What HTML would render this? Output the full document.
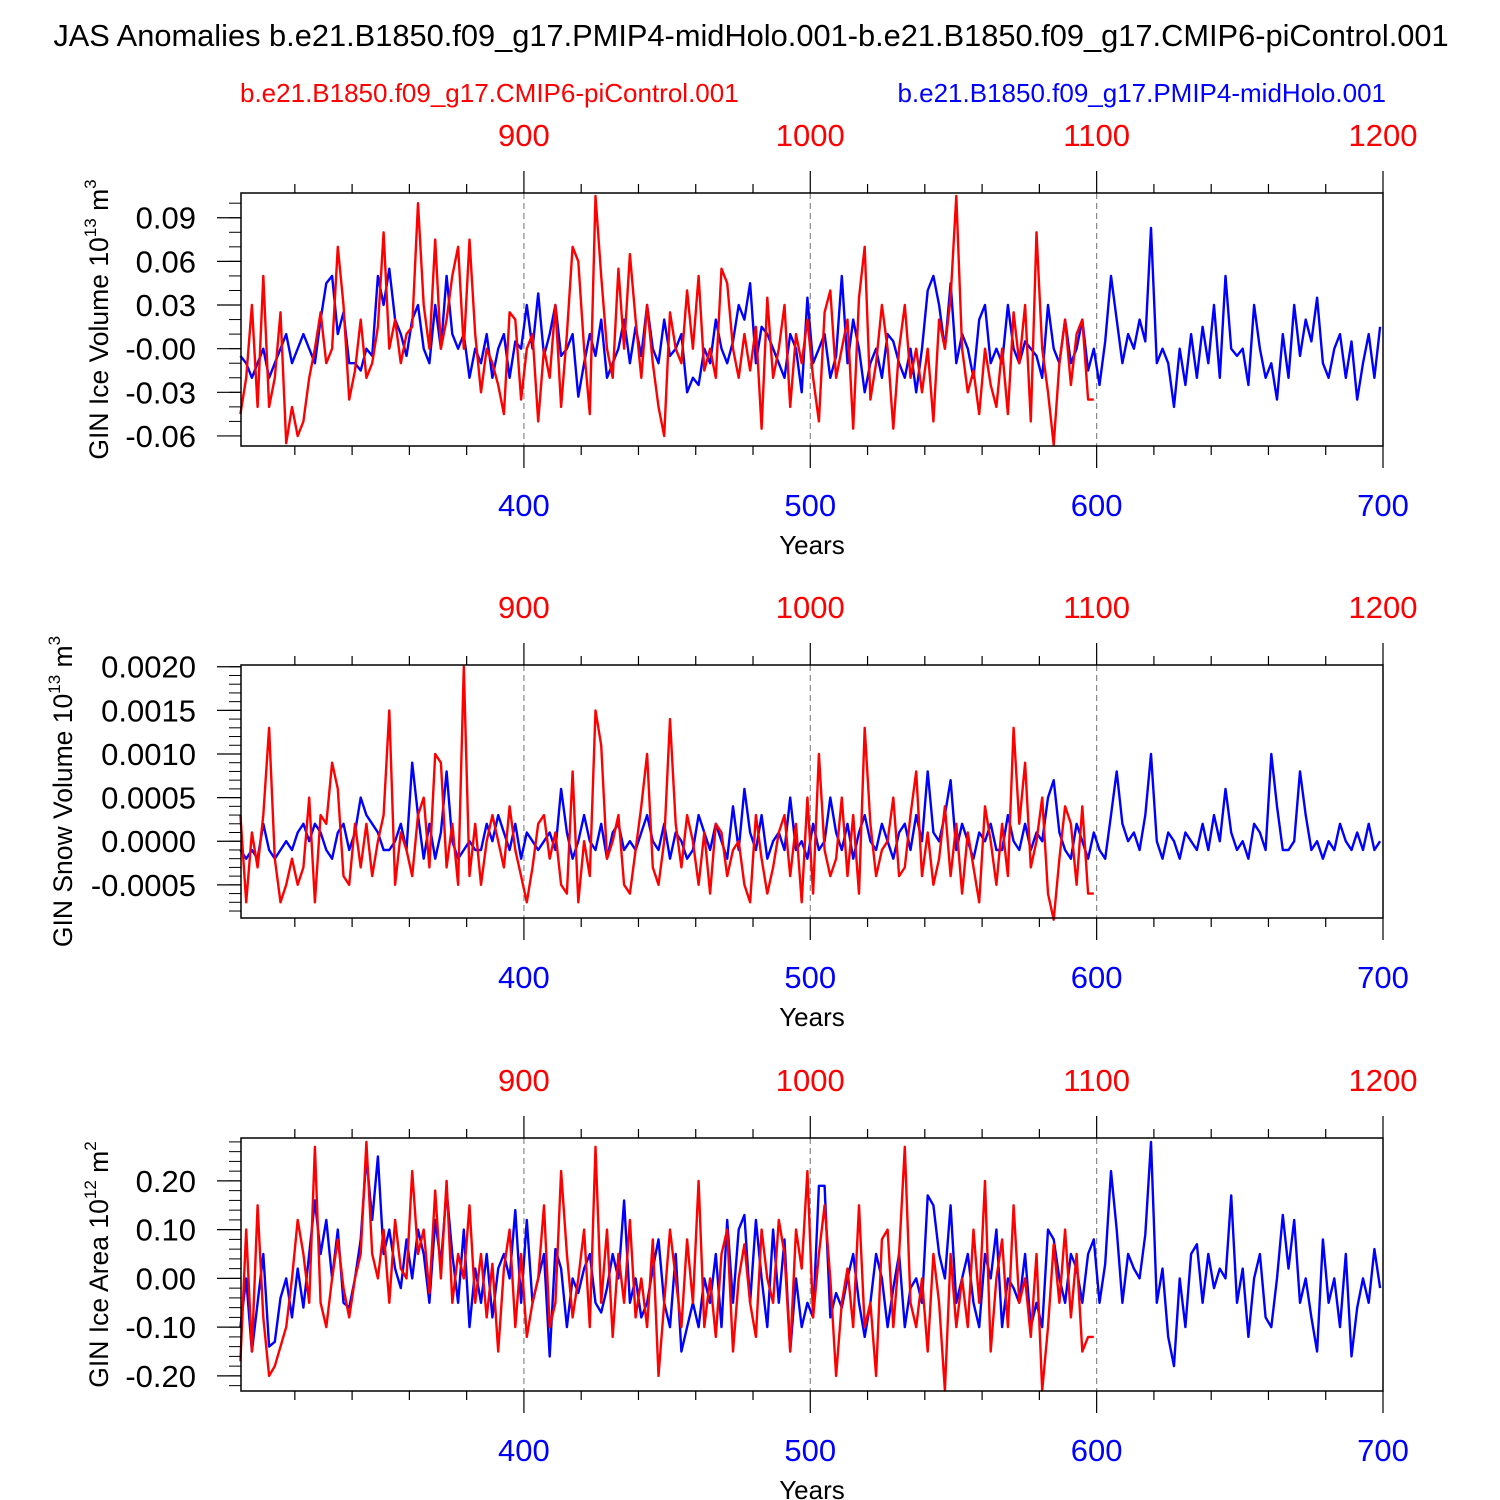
<!DOCTYPE html>
<html><head><meta charset="utf-8">
<style>
html,body{margin:0;padding:0;background:#fff;}
svg{display:block;font-family:"Liberation Sans",Arial,sans-serif;}
</style></head>
<body>
<svg id="chart" width="1500" height="1500" viewBox="0 0 1500 1500" xmlns="http://www.w3.org/2000/svg">
<rect width="1500" height="1500" fill="#fff"/>
<text x="751" y="46" font-size="30.8" text-anchor="middle">JAS Anomalies b.e21.B1850.f09_g17.PMIP4-midHolo.001-b.e21.B1850.f09_g17.CMIP6-piControl.001</text>
<text x="240" y="102" font-size="26" fill="#ff0000">b.e21.B1850.f09_g17.CMIP6-piControl.001</text>
<text x="1386" y="102" font-size="26" fill="#0000ff" text-anchor="end">b.e21.B1850.f09_g17.PMIP4-midHolo.001</text>
</svg>
<script>
// time axes
const blueStart = 301, redStart = 801, yearStep = 2, redOffset = 500;
const bottomTicks = [400, 500, 600, 700];
const topTicks = [900, 1000, 1100, 1200];

// Panel 1: ice volume (1e13 m3)
const iceVolBlue = [-0.005,-0.01,-0.02,-0.01,0.0,-0.02,-0.01,0.0,0.01,-0.01,0.0,0.01,0.0,-0.01,0.02,0.045,0.05,0.01,0.025,-0.01,
-0.01,-0.015,0.0,-0.005,0.05,0.03,0.055,0.02,0.01,-0.005,0.02,0.03,0.0,-0.01,0.03,0.0,0.05,0.01,0.0,0.01,
-0.02,0.0,-0.01,0.01,-0.02,0.0,0.01,-0.02,0.005,0.0,0.03,0.0,0.038,-0.005,0.01,0.03,-0.005,0.0,0.01,-0.033,
-0.01,0.01,-0.005,0.02,-0.02,-0.01,0.0,0.02,-0.01,0.015,-0.005,0.03,0.0,-0.01,0.02,-0.005,0.0,0.01,-0.03,-0.02,
-0.025,0.0,-0.01,0.02,0.0,-0.01,0.005,0.03,0.02,0.045,-0.01,0.015,0.01,0.0,-0.01,-0.02,0.01,0.0,-0.03,0.035,
-0.01,0.0,0.01,-0.02,-0.005,0.05,-0.01,0.02,0.0,-0.03,-0.01,0.0,-0.02,0.01,0.005,-0.01,-0.02,0.0,-0.03,0.0,
0.04,0.05,0.03,0.0,0.045,-0.01,0.01,0.0,-0.02,0.02,0.03,-0.01,0.0,-0.01,0.03,0.0,-0.01,0.005,0.0,-0.005,
-0.02,0.03,0.0,-0.01,0.02,-0.01,0.0,0.02,-0.015,0.0,-0.025,0.005,0.05,0.02,-0.01,0.01,0.0,0.02,0.005,0.083,
-0.01,0.0,-0.01,-0.04,0.0,-0.025,0.01,-0.02,0.015,-0.01,0.03,-0.02,0.05,0.0,-0.005,0.0,-0.025,0.03,0.0,-0.02,
-0.01,-0.035,0.01,-0.02,0.03,-0.005,0.02,0.005,0.035,-0.01,-0.02,0.0,0.01,-0.02,0.005,-0.035,-0.01,0.01,-0.02,0.015];
const iceVolRed = [-0.045,-0.02,0.03,-0.04,0.05,-0.04,-0.02,0.025,-0.065,-0.04,-0.06,-0.05,-0.02,0.0,0.025,-0.01,0.0,0.07,0.03,-0.035,
-0.015,0.02,-0.02,-0.01,0.015,0.08,0.0,0.02,-0.01,0.01,0.015,0.1,0.03,0.0,0.075,0.0,0.02,0.05,0.07,0.0,
0.075,0.01,-0.03,0.0,-0.01,-0.025,-0.045,0.025,0.02,-0.035,0.0,0.01,-0.05,0.0,-0.02,0.03,-0.04,0.01,0.07,0.06,
0.0,-0.045,0.105,0.05,0.0,-0.02,0.055,0.0,0.065,0.02,-0.02,0.03,-0.01,-0.04,-0.06,0.025,0.0,-0.01,0.04,0.0,
0.05,-0.015,0.0,-0.02,0.055,0.045,0.0,-0.02,0.01,-0.015,0.015,-0.055,0.035,-0.02,0.0,0.03,-0.04,0.01,-0.01,0.02,
-0.02,-0.05,0.025,0.04,-0.02,0.0,0.02,-0.055,0.035,0.07,-0.035,-0.01,0.03,0.0,-0.055,0.0,0.03,-0.02,0.0,-0.03,
0.0,-0.05,0.02,0.0,0.035,0.105,0.0,-0.03,-0.015,-0.045,0.0,-0.025,-0.04,0.0,-0.045,0.025,-0.01,0.03,-0.05,0.08,
0.0,-0.03,-0.066,-0.01,0.02,-0.025,0.01,0.02,-0.035,-0.035];

// Panel 2: snow volume, in units of 1e-4 (x 1e13 m3)
const snowVolBlueE4 = [-1,-2,-1,-2,2,-1,-2,-1,0,-1,1,2,0,2,1,-1,-2,1,2,-1,
1,5,3,2,1,-1,-1,0,2,-1,9,3,-2,2,-2,1,8,0,-2,-1,
0,-1,-1,2,0,3,1,-1,2,-2,1,0,-1,0,1,-1,6,1,-2,0,
3,0,-1,2,-2,1,2,-1,0,-1,1,3,0,-1,2,-2,1,0,-2,-1,
3,1,-1,2,0,-2,4,-1,6,1,-1,3,-2,0,1,-1,5,-1,0,-2,
2,-1,0,5,1,-1,2,-2,1,3,0,-1,2,0,-2,1,2,-1,3,0,
8,1,0,3,7,-1,2,0,-2,1,0,2,-1,-1,3,0,-1,2,-1,1,
0,5,7,1,-1,-2,2,0,-2,1,-1,-2,3,8,2,0,1,-1,3,10,
0,-2,1,0,-2,1,0,-1,2,-1,3,0,6,1,-1,0,-2,2,1,-1,
10,4,-1,-1,0,8,3,-1,0,-2,0,-1,2,0,-1,1,-1,2,-1,0];
const snowVolRedE4 = [3,-7,1,-3,3,13,-2,-7,-5,-2,-5,-3,5,-7,3,2,9,6,-4,-5,
2,-3,2,-4,0,3,15,-5,1,-1,-4,3,5,-3,10,9,-3,2,-5,20,
-4,2,-5,0,3,0,-3,4,-1,-4,-7,-3,2,3,-2,1,-5,-6,8,-7,
0,-4,15,11,-2,0,3,-5,-6,-1,4,10,-3,-5,0,14,2,-3,3,0,
-5,1,-6,2,1,-4,-1,0,-5,-7,3,-2,-6,-3,1,3,-4,2,-7,5,
-6,10,-1,-4,-2,5,-4,3,-6,13,2,-4,-1,0,5,-4,-3,3,8,-4,
1,-5,-2,4,-4,2,-6,1,-3,-7,4,0,-5,2,-4,13,2,9,-3,0,
5,-6,-9,-2,4,2,-5,4,-6,-6];

// Panel 3: ice area (1e12 m2)
const iceAreaBlue = [-0.1,0.0,-0.15,-0.05,0.05,-0.14,-0.13,-0.04,0.0,-0.08,0.02,-0.06,0.05,0.16,0.05,0.12,0.0,0.1,-0.05,-0.06,
0.0,0.08,0.25,0.12,0.25,0.05,0.1,0.02,-0.02,0.08,0.0,0.1,0.05,-0.05,0.12,0.03,0.18,0.05,-0.05,0.1,
-0.1,0.02,-0.05,0.05,-0.08,0.02,0.05,0.0,0.14,-0.05,0.12,-0.05,0.0,0.05,-0.16,0.06,0.02,-0.1,0.0,-0.03,
0.02,0.05,-0.05,-0.07,-0.02,0.05,0.0,0.16,-0.05,0.0,-0.08,-0.05,0.02,0.08,-0.05,-0.1,0.05,-0.15,-0.1,-0.05,
-0.1,0.0,-0.05,0.05,-0.1,0.12,-0.05,0.1,0.13,-0.05,0.12,0.0,-0.1,0.1,-0.05,0.08,-0.15,0.0,-0.1,-0.05,
-0.08,0.19,0.19,-0.08,-0.03,-0.06,0.0,0.05,-0.05,-0.12,-0.05,0.05,0.0,-0.1,-0.02,0.05,-0.1,-0.02,0.0,-0.05,
0.17,0.15,0.05,0.0,0.15,-0.05,0.0,0.05,-0.05,-0.1,0.05,0.0,0.1,-0.1,0.0,-0.02,-0.05,0.05,-0.1,-0.05,
-0.1,0.1,0.08,0.0,-0.05,0.05,0.02,-0.05,0.05,0.08,-0.05,0.03,0.22,0.1,-0.05,0.05,0.02,0.0,0.09,0.28,
-0.05,0.02,-0.12,-0.18,0.0,-0.1,0.05,0.07,-0.05,0.05,-0.02,0.02,0.0,0.17,-0.05,0.02,-0.12,0.0,0.05,-0.08,
-0.1,0.0,0.13,0.02,0.12,-0.05,0.0,-0.08,-0.15,0.08,-0.05,0.0,-0.1,0.05,-0.16,-0.06,0.0,-0.05,0.06,-0.02];
const iceAreaRed = [-0.17,0.1,-0.15,0.15,-0.08,-0.2,-0.18,-0.14,-0.1,0.0,0.12,0.05,-0.05,0.27,-0.05,-0.1,0.0,0.08,-0.02,-0.08,
0.0,0.05,0.28,0.05,0.0,0.1,-0.05,0.12,0.02,0.0,0.22,0.05,0.1,-0.03,0.18,0.0,0.2,-0.05,0.05,0.0,
0.15,-0.05,0.05,-0.08,0.03,-0.15,0.02,0.1,-0.1,0.05,-0.12,-0.05,0.0,0.15,-0.1,-0.05,0.22,0.05,-0.08,0.0,
0.1,-0.1,0.27,-0.05,0.1,-0.12,0.05,-0.05,0.12,-0.08,0.0,-0.1,0.08,-0.2,-0.05,0.1,0.0,-0.1,0.08,-0.05,
0.2,-0.1,0.0,-0.12,0.05,0.1,-0.15,0.0,0.07,-0.05,-0.12,0.1,0.0,-0.05,0.12,0.05,-0.15,0.1,0.02,0.22,
-0.08,0.05,0.15,0.0,-0.2,-0.05,0.02,-0.1,0.15,-0.1,-0.05,-0.2,0.08,0.1,-0.1,0.05,0.27,-0.05,-0.1,0.0,
-0.15,0.05,-0.05,-0.23,0.05,-0.1,0.0,-0.1,0.1,-0.05,0.2,-0.15,0.0,0.08,-0.1,0.15,-0.05,0.0,-0.12,0.05,
-0.23,-0.1,0.07,-0.05,0.1,-0.08,0.05,-0.15,-0.12,-0.12];

const ticks1 = [0.09,0.06,0.03,0.0,-0.03,-0.06];
const tickLabels1 = ["0.09","0.06","0.03","-0.00","-0.03","-0.06"];
const ticks2 = [0.0020,0.0015,0.0010,0.0005,0.0,-0.0005];
const tickLabels2 = ["0.0020","0.0015","0.0010","0.0005","0.0000","-0.0005"];
const ticks3 = [0.20,0.10,0.0,-0.10,-0.20];
const tickLabels3 = ["0.20","0.10","0.00","-0.10","-0.20"];

const NS = "http://www.w3.org/2000/svg";
const svg = document.getElementById("chart");
const X0 = 241, X1 = 1383;
function xBlue(yr){ return X0 + (yr - 301.2) * (X1 - X0) / (700 - 301.2); }
function mk(tag, attrs, parent){ const e = document.createElementNS(NS, tag); for (const k in attrs) e.setAttribute(k, attrs[k]); (parent||svg).appendChild(e); return e; }

function panel(name, top, bottom, vTop, vBot, blue, red, scale, ticks, labels, minorStep, yTitleHtml, titleX){
  const g = mk("g", {});
  
  
  const y = v => top + (vTop - v * scale) * (bottom - top) / (vTop - vBot);
  const yv = v => top + (vTop - v) * (bottom - top) / (vTop - vBot);
  [400,500,600].forEach(yr => {
    const l = mk("line", {x1:xBlue(yr), x2:xBlue(yr), y1:top, y2:bottom, stroke:"#888", "stroke-width":1.2, "stroke-dasharray":"6,4"}, g);
    
    
  });
  const line = (arr, start, color, off, nm) => {
    let d = "";
    arr.forEach((v,i) => { const yr = start + i*yearStep - off; d += (i?"L":"M") + xBlue(yr).toFixed(1) + "," + y(v).toFixed(1); });
    const p = mk("path", {d:d, fill:"none", stroke:color, "stroke-width":2.4, "stroke-linejoin":"round"}, g);
    
    
  };
  line(blue, blueStart, "#0000ff", 0, "midholo-series");
  line(red, redStart, "#ff0000", redOffset, "picontrol-series");
  const fr = mk("rect", {x:X0, y:top, width:X1-X0, height:bottom-top, fill:"none", stroke:"#000", "stroke-width":1.5}, g);
  
  
  for (let yr = 320; yr <= 700; yr += 20) {
    const major = yr % 100 === 0, len = major ? 22 : 9, x = xBlue(yr);
    mk("line", {x1:x, x2:x, y1:bottom, y2:bottom+len, stroke:"#000", "stroke-width":1.2}, g);
    mk("line", {x1:x, x2:x, y1:top, y2:top-len, stroke:"#000", "stroke-width":1.2}, g);
  }
  bottomTicks.forEach(yr => {
    const t = mk("text", {x:xBlue(yr), y:bottom+70, "font-size":31, fill:"#0000ff", "text-anchor":"middle"}, g);
    t.textContent = yr;
    
    
  });
  topTicks.forEach(yr => {
    const t = mk("text", {x:xBlue(yr - redOffset), y:top-47, "font-size":31, fill:"#ff0000", "text-anchor":"middle"}, g);
    t.textContent = yr;
    
    
  });
  const xt = mk("text", {x:812, y:bottom+108, "font-size":26, "text-anchor":"middle"}, g);
  xt.textContent = "Years";
  
  
  ticks.forEach((v,i) => {
    const yy = yv(v);
    mk("line", {x1:X0-24, x2:X0, y1:yy, y2:yy, stroke:"#000", "stroke-width":1.2}, g);
    const t = mk("text", {x:196, y:yy+11, "font-size":31, "text-anchor":"end"}, g);
    t.textContent = labels[i];
    
    
  });
  const base = ticks[ticks.length-1];
  for (let k = -10; k < 200; k++) {
    const v = base + k * minorStep;
    if (v < vBot || v > vTop) continue;
    const yy = yv(v);
    mk("line", {x1:X0-12, x2:X0, y1:yy, y2:yy, stroke:"#000", "stroke-width":1}, g);
  }
  const yt = mk("text", {transform:`translate(${titleX},${(top+bottom)/2}) rotate(-90)`, "font-size":26.5, "text-anchor":"middle"}, g);
  yt.innerHTML = yTitleHtml;
  
  
}

panel("ice-volume-panel", 193, 446, 0.107, -0.0669, iceVolBlue, iceVolRed, 1, ticks1, tickLabels1, 0.01,
  'GIN Ice Volume 10<tspan font-size="17" dy="-12">13</tspan><tspan dy="12"> m</tspan><tspan font-size="17" dy="-12">3</tspan>', 108);
panel("snow-volume-panel", 665, 918, 0.00202, -0.00088, snowVolBlueE4, snowVolRedE4, 1e-4, ticks2, tickLabels2, 0.0001,
  'GIN Snow Volume 10<tspan font-size="17" dy="-12">13</tspan><tspan dy="12"> m</tspan><tspan font-size="17" dy="-12">3</tspan>', 72);
panel("ice-area-panel", 1138, 1391, 0.288, -0.231, iceAreaBlue, iceAreaRed, 1, ticks3, tickLabels3, 0.02,
  'GIN Ice Area 10<tspan font-size="17" dy="-12">12</tspan><tspan dy="12"> m</tspan><tspan font-size="17" dy="-12">2</tspan>', 108);
</script>
</body></html>
